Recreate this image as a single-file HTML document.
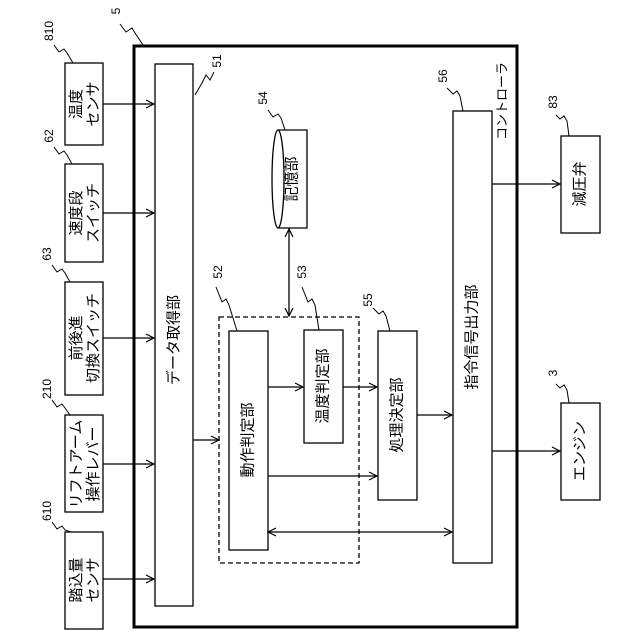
<!DOCTYPE html>
<html><head><meta charset="utf-8"><style>
html,body{margin:0;padding:0;background:#fff}
svg{display:block}
text{font-family:"Liberation Sans","Noto Sans CJK JP",sans-serif;fill:#000}
</style></head><body>
<svg width="640" height="640" viewBox="0 0 640 640" xmlns="http://www.w3.org/2000/svg">
<defs>
<marker id="a" markerWidth="10" markerHeight="10" refX="9" refY="5" orient="auto-start-reverse" markerUnits="userSpaceOnUse">
<polyline points="1,1 9,5 1,9" fill="none" stroke="#000" stroke-width="1.2"/>
</marker>
</defs>
<g fill="none" stroke="#000" stroke-width="1.3">
<rect x="134" y="46" width="383" height="581" stroke-width="3"/>
<rect x="65" y="63" width="38" height="82"/>
<rect x="65" y="164" width="38" height="98"/>
<rect x="65" y="282" width="38" height="113"/>
<rect x="65" y="415" width="38" height="97"/>
<rect x="65" y="532" width="38" height="97"/>
<rect x="155" y="64" width="38" height="542"/>
<rect x="219" y="317" width="140" height="246" stroke-dasharray="5,3"/>
<rect x="229" y="331" width="39" height="219"/>
<rect x="304" y="330" width="39" height="113"/>
<rect x="378" y="331" width="39" height="169"/>
<rect x="453" y="111" width="39" height="452"/>
<rect x="561" y="136" width="39" height="97"/>
<rect x="561" y="403" width="39" height="97"/>
<path d="M278 130 L307 130 L307 228 L278 228"/>
<ellipse cx="278" cy="179" rx="6" ry="49"/>
<line x1="103" y1="104" x2="154" y2="104" marker-end="url(#a)"/>
<line x1="103" y1="213" x2="154" y2="213" marker-end="url(#a)"/>
<line x1="103" y1="338" x2="154" y2="338" marker-end="url(#a)"/>
<line x1="103" y1="464" x2="154" y2="464" marker-end="url(#a)"/>
<line x1="103" y1="579" x2="154" y2="579" marker-end="url(#a)"/>
<line x1="193" y1="440" x2="219" y2="440" marker-end="url(#a)"/>
<line x1="268" y1="387" x2="303" y2="387" marker-end="url(#a)"/>
<line x1="343" y1="387" x2="377" y2="387" marker-end="url(#a)"/>
<line x1="268" y1="476" x2="377" y2="476" marker-end="url(#a)"/>
<line x1="417" y1="415" x2="452" y2="415" marker-end="url(#a)"/>
<line x1="268" y1="532" x2="452" y2="532" marker-start="url(#a)" marker-end="url(#a)"/>
<line x1="289" y1="229" x2="289" y2="316" marker-start="url(#a)" marker-end="url(#a)"/>
<line x1="492" y1="184" x2="560" y2="184" marker-end="url(#a)"/>
<line x1="492" y1="451" x2="560" y2="451" marker-end="url(#a)"/>
<g stroke-width="1">
<path d="M120 24 l6 8 l6 -4 l3 5 l8 12"/>
<path d="M54 45 l5 7 l5 -3 l3 4 l6 10"/>
<path d="M54 147 l5 7 l5 -3 l3 4 l5 9"/>
<path d="M52 265 l5 7 l5 -3 l3 4 l5 9"/>
<path d="M52 400 l5 7 l5 -3 l3 4 l5 7"/>
<path d="M52 522 l5 7 l5 -3 l3 4 l6 2"/>
<path d="M214 72 l-4 8 l-4 -5 l-4 8 l-7 12"/>
<path d="M268 110 l5 7 l5 -3 l3 4 l4 12"/>
<path d="M216 287 l6 15 l4 -3 l3 6 l8 26"/>
<path d="M302 287 l6 15 l4 -3 l3 6 l4 25"/>
<path d="M373 308 l6 6 l4 -3 l3 5 l4 15"/>
<path d="M447 88 l6 6 l4 -3 l3 5 l3 15"/>
<path d="M556 115 l4 4 l4 -3 l3 5 l2 15"/>
<path d="M556 384 l4 4 l4 -3 l3 5 l2 13"/>
</g>
</g>
<g font-size="15" dominant-baseline="central">
<text transform="translate(84 104) rotate(-90)" text-anchor="middle"><tspan x="0" y="-8">温度</tspan><tspan x="0" y="9">センサ</tspan></text>
<text transform="translate(84 213) rotate(-90)" text-anchor="middle"><tspan x="0" y="-8">速度段</tspan><tspan x="0" y="9">スイッチ</tspan></text>
<text transform="translate(84 338) rotate(-90)" text-anchor="middle"><tspan x="0" y="-8">前後進</tspan><tspan x="0" y="9">切換スイッチ</tspan></text>
<text transform="translate(84 464) rotate(-90)" text-anchor="middle"><tspan x="0" y="-8">リフトアーム</tspan><tspan x="0" y="9">操作レバー</tspan></text>
<text transform="translate(84 580) rotate(-90)" text-anchor="middle"><tspan x="0" y="-8">踏込量</tspan><tspan x="0" y="9">センサ</tspan></text>
<text transform="translate(174 340) rotate(-90)" text-anchor="middle">データ取得部</text>
<text transform="translate(248 440) rotate(-90)" text-anchor="middle">動作判定部</text>
<text transform="translate(323 386) rotate(-90)" text-anchor="middle">温度判定部</text>
<text transform="translate(397 415) rotate(-90)" text-anchor="middle">処理決定部</text>
<text transform="translate(472 337) rotate(-90)" text-anchor="middle">指令信号出力部</text>
<text transform="translate(580 184) rotate(-90)" text-anchor="middle">減圧弁</text>
<text transform="translate(580 451) rotate(-90)" text-anchor="middle">エンジン</text>
<text transform="translate(292 179) rotate(-90)" text-anchor="middle">記憶部</text>
<text transform="translate(502 101) rotate(-90)" text-anchor="middle" font-size="13">コントローラ</text>
</g>
<g font-size="12" dominant-baseline="central">
<text transform="translate(116 11) rotate(-90)" text-anchor="middle">5</text>
<text transform="translate(49 31) rotate(-90)" text-anchor="middle">810</text>
<text transform="translate(49 136) rotate(-90)" text-anchor="middle">62</text>
<text transform="translate(47 254) rotate(-90)" text-anchor="middle">63</text>
<text transform="translate(47 389) rotate(-90)" text-anchor="middle">210</text>
<text transform="translate(47 511) rotate(-90)" text-anchor="middle">610</text>
<text transform="translate(217 61) rotate(-90)" text-anchor="middle">51</text>
<text transform="translate(263 98) rotate(-90)" text-anchor="middle">54</text>
<text transform="translate(218 272) rotate(-90)" text-anchor="middle">52</text>
<text transform="translate(302 272) rotate(-90)" text-anchor="middle">53</text>
<text transform="translate(368 300) rotate(-90)" text-anchor="middle">55</text>
<text transform="translate(443 76) rotate(-90)" text-anchor="middle">56</text>
<text transform="translate(553 102) rotate(-90)" text-anchor="middle">83</text>
<text transform="translate(553 373) rotate(-90)" text-anchor="middle">3</text>
</g>
</svg>
</body></html>
